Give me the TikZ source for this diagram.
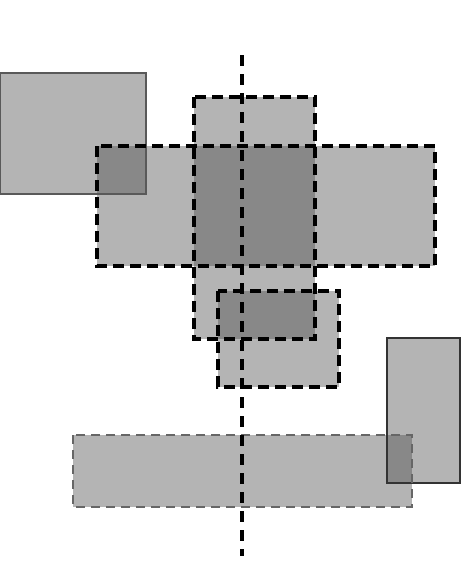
\documentclass[tikz,border=0pt]{standalone}
\begin{document}
\begin{tikzpicture}[x=1pt,y=-1pt,
  lightfill/.style={fill=lgray},
  darkfill/.style={fill=dgray},
  solidbox/.style={draw=#1,line width=2.2pt},
  dashbox/.style={draw=black,line width=3.5pt,dash pattern=on 11pt off 6pt},
  thindash/.style={draw=black!60,line width=2.2pt,dash pattern=on 9pt off 6pt},
  axisline/.style={draw=black,line width=4pt,dash pattern=on 11pt off 8pt}]
\definecolor{lgray}{HTML}{B4B4B4}
\definecolor{dgray}{HTML}{888888}
\useasboundingbox (0,0) rectangle (474,565);
% fills
\fill[lightfill] (0,73) rectangle (146,194);
\fill[lightfill] (194,97) rectangle (315,339);
\fill[lightfill] (97,146) rectangle (435,266);
\fill[lightfill] (218,291) rectangle (339,387);
\fill[lightfill] (387,338) rectangle (460,483);
\fill[lightfill] (73,435) rectangle (412,507);
% overlaps
\fill[darkfill] (97,146) rectangle (146,194);
\fill[darkfill] (194,146) rectangle (315,266);
\fill[darkfill] (218,291) rectangle (315,339);
\fill[darkfill] (387,435) rectangle (412,483);
% borders
\draw[solidbox=black!65] (0,73) rectangle (146,194);
\draw[solidbox=black!80] (387,338) rectangle (460,483);
\draw[thindash] (73,435) rectangle (412,507);
\draw[dashbox] (194,97) rectangle (315,339);
\draw[dashbox] (97,146) rectangle (435,266);
\draw[dashbox] (218,291) rectangle (339,387);
\coordinate (top) at (242,55);
\coordinate (bot) at (242,556);
\draw[axisline] (top) -- (bot);
\end{tikzpicture}
\end{document}
